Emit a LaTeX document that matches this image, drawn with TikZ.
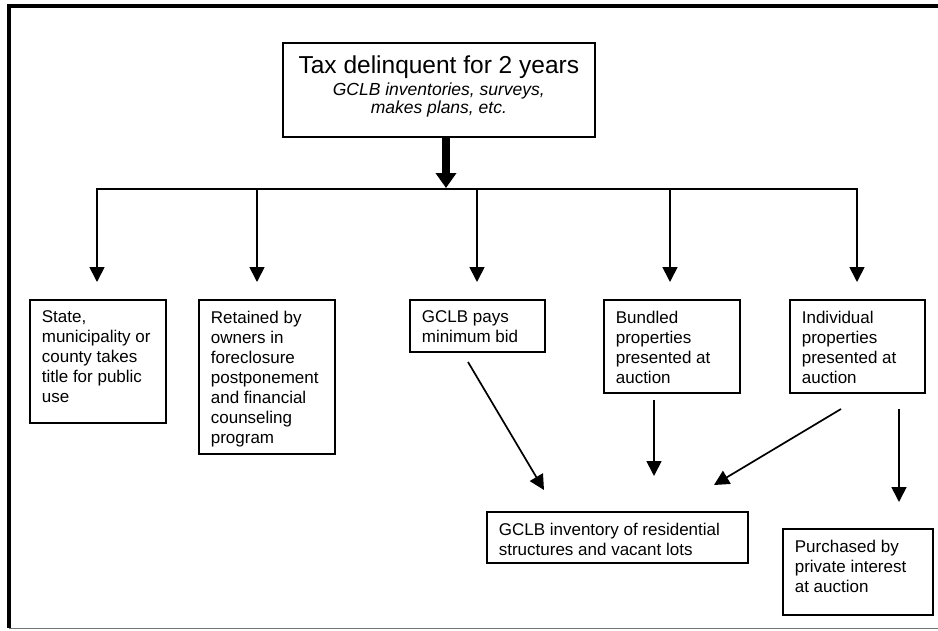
\documentclass[tikz,border=0pt]{standalone}
\usepackage{fontspec}
\setmainfont{Liberation Sans}
\usetikzlibrary{arrows.meta,calc}
\newcommand{\bxtext}[3]{\parbox[c][#2][t]{#1}{\raggedright\vspace*{11pt}#3}}
\begin{document}
\begin{tikzpicture}[x=1pt,y=-1pt,
  box/.style={draw, line width=1.7pt, anchor=north west, inner xsep=12pt, inner ysep=0pt,
    font=\fontsize{17pt}{20pt}\selectfont},
  conn/.style={line width=1.7pt, -{Triangle[length=15pt,width=15pt]}},
  bus/.style={line width=1.7pt, line cap=rect},
  thickarrow/.style={line width=8pt, -{Triangle[length=15pt,width=20pt]}}
  ]
\useasboundingbox (0,0) rectangle (938,630);

% frame
\draw[line width=4pt, line join=miter] (9.3,628) -- (9.3,6) -- (938,6);
\draw[black!55, line width=1pt] (9.3,628.5) -- (938,628.5);

% top box
\node[draw, line width=1.7pt, anchor=north west, inner sep=0pt] (top) at (282,42)
  {\parbox[c][94pt][t]{312pt}{\centering\vspace*{13pt}%
   {\fontsize{24.5pt}{26pt}\selectfont Tax delinquent for 2 years\par}\vspace{4pt}%
   {\fontsize{17.5pt}{18pt}\selectfont\itshape GCLB inventories, surveys,\\ makes plans, etc.\par}}};

% second row boxes
\node[box] (b1) at (29,299)  {\bxtext{112pt}{123pt}{State,\\ municipality or\\ county takes\\ title for public\\ use}};
\node[box] (b2) at (198,299) {\bxtext{112pt}{154pt}{Retained by\\ owners in\\ foreclosure\\ postponement\\ and financial\\ counseling\\ program}};
\node[box] (b3) at (409,299) {\bxtext{111pt}{52pt}{GCLB pays\\ minimum bid}};
\node[box] (b4) at (603,299) {\bxtext{112pt}{93pt}{Bundled\\ properties\\ presented at\\ auction}};
\node[box] (b5) at (789,299) {\bxtext{111pt}{93pt}{Individual\\ properties\\ presented at\\ auction}};

% bottom boxes
\node[box] (inv) at (486,511) {\bxtext{237pt}{51pt}{GCLB inventory of residential\\ structures and vacant lots}};
\node[box] (pur) at (782,528) {\bxtext{126pt}{86pt}{Purchased by\\ private interest\\ at auction}};

% junctions
\coordinate (j0) at (446,188);
\coordinate (j1) at (97,189);
\coordinate (j2) at (257,189);
\coordinate (j3) at (477,189);
\coordinate (j4) at (670,189);
\coordinate (j5) at (857,189);

\draw[thickarrow] (top.south -| j0) -- (j0);
\draw[bus] (j1) -- (j5);
\draw[conn, shorten >=17pt] (j1) -- (j1 |- b1.north);
\draw[conn, shorten >=17pt] (j2) -- (j2 |- b2.north);
\draw[conn, shorten >=17pt] (j3) -- (j3 |- b3.north);
\draw[conn, shorten >=17pt] (j4) -- (j4 |- b4.north);
\draw[conn, shorten >=17pt] (j5) -- (j5 |- b5.north);

% lower connectors
\coordinate (d3s) at (468,362);
\coordinate (d3e) at (544,490);
\coordinate (d4s) at (654,400);
\coordinate (d4e) at (654,476);
\coordinate (d5s) at (841,409);
\coordinate (d5e) at (714,485);
\coordinate (d6s) at (899,409);
\coordinate (d6e) at (899,502);
\draw[conn] (d3s) -- (d3e);
\draw[conn] (d4s) -- (d4e);
\draw[conn] (d5s) -- (d5e);
\draw[conn] (d6s) -- (d6e);
\end{tikzpicture}
\end{document}
